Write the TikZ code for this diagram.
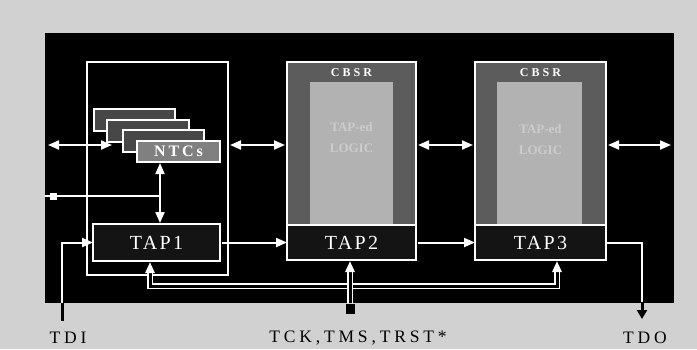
\documentclass[tikz,border=0pt]{standalone}
\usepackage{fontspec}
\setmainfont{Liberation Serif}
\usetikzlibrary{arrows.meta}
\definecolor{bgc}{gray}{0.82}
\definecolor{cbdark}{gray}{0.36}
\definecolor{cblight}{gray}{0.70}
\definecolor{faint}{gray}{0.80}
\begin{document}
\begin{tikzpicture}[x=1pt,y=-1pt,
  box/.style={anchor=north west, inner sep=0pt, outer sep=0pt},
  wline/.style={white, line width=2pt},
  tipw/.style={-{Triangle[length=11pt,width=9pt]}},
  warr/.style={wline, tipw},
  wdarr/.style={wline, {Triangle[length=11pt,width=9pt]}-{Triangle[length=11pt,width=9pt]}},
  bus/.style={draw=white, line width=1.8pt, double=black, double distance=3pt},
  column/.style={box, draw=white, line width=2pt, fill=cbdark},
  inner/.style={box, fill=cblight},
  tapbox/.style={box, draw=white, line width=2pt, fill=black!92, text=white,
    font=\fontsize{20}{22}\selectfont\addfontfeature{LetterSpace=12}},
  ntc/.style={box, draw=white, line width=1.6pt, fill=black!72},
  cbsrlbl/.style={text=white, inner sep=0pt, font=\bfseries\fontsize{12}{14}\selectfont\addfontfeature{LetterSpace=25}},
  faintlbl/.style={text=faint, inner sep=0pt, font=\bfseries\fontsize{13}{15}\selectfont},
  lbl/.style={text=black, inner sep=0pt, font=\fontsize{17.5}{20}\selectfont\addfontfeature{LetterSpace=22}}
]
\path[use as bounding box] (0,0) rectangle (697,349);
\fill[bgc] (0,0) rectangle (697,349);
\node[box, fill=black, minimum width=629pt, minimum height=270pt] (board) at (45,33) {};

% left module
\node[box, draw=white, line width=2pt, minimum width=141pt, minimum height=213pt] (mod) at (87,62) {};

% NTC stack
\node[ntc, minimum width=81pt, minimum height=22pt] (r1) at (94,109) {};
\node[ntc, minimum width=82pt, minimum height=22pt] (r2) at (107,120) {};
\node[ntc, minimum width=81pt, minimum height=22pt] (r3) at (123,130) {};
\node[ntc, fill=black!50, minimum width=83pt, minimum height=21pt, text=white,
  font=\bfseries\fontsize{16}{18}\selectfont\addfontfeature{LetterSpace=18}] (r4) at (137,141) {NTCs};

% TAP1
\node[tapbox, minimum width=127pt, minimum height=37pt] (tap1) at (93,224) {TAP1};

% CBSR columns
\node[column, minimum width=129pt, minimum height=198pt] (c1) at (287,62) {};
\node[inner, minimum width=83pt, minimum height=142pt] (c1in) at (310,82) {};
\node[cbsrlbl] (c1l) at (351.5,73) {CBSR};
\node[faintlbl] (c1t1) at (351.5,127) {TAP-ed};
\node[faintlbl] (c1t2) at (351.5,148) {LOGIC};
\node[tapbox, minimum width=129pt, minimum height=35pt] (tap2) at (287,225) {TAP2};

\node[column, minimum width=131pt, minimum height=198pt] (c2) at (475,62) {};
\node[inner, minimum width=85pt, minimum height=142pt] (c2in) at (497,82) {};
\node[cbsrlbl] (c2l) at (540.5,73) {CBSR};
\node[faintlbl] (c2t1) at (540.5,129) {TAP-ed};
\node[faintlbl] (c2t2) at (540.5,150) {LOGIC};
\node[tapbox, minimum width=131pt, minimum height=35pt] (tap3) at (475,225) {TAP3};

% data arrows
\coordinate (la) at (48,145);
\coordinate (lb) at (112,145);
\coordinate (ra) at (671,145);
\draw[wdarr] (la) -- (lb);
\draw[wdarr] ([xshift=2pt]mod.east |- la) -- ([xshift=-2pt]c1.west |- la);
\draw[wdarr] ([xshift=2pt]c1.east |- la) -- ([xshift=-2pt]c2.west |- la);
\draw[wdarr] ([xshift=2pt]c2.east |- la) -- (ra);

% NTC <-> TAP1
\coordinate (vx) at (160,0);
\draw[wdarr] ([yshift=-1pt]r4.south -| vx) -- ([yshift=1pt]tap1.north -| vx);
\coordinate (lin) at (45,196);
\draw[wline] (lin) -- (lin -| vx);
\fill[white] (50,193) rectangle (57,200);

% TDI
\coordinate (tdiin) at (62,303);
\coordinate (tdib) at (62,321);
\draw[wline] (tdiin) |- ([xshift=-10pt]tap1.west);
\draw[warr] ([xshift=-11pt]tap1.west) -- (tap1.west);
\draw[black, line width=3pt] (tdiin) -- (tdib);
\node[lbl] (tdi) at (68,338) {TDI};

% TAP chain
\draw[warr] ([xshift=2pt]tap1.east) -- (tap2.west |- tap1.east);
\draw[warr] ([xshift=2pt]tap2.east) -- (tap3.west);

% TDO
\coordinate (tdoin) at (642,303);
\coordinate (tdob) at (642,319);
\draw[wline] ([xshift=1pt]tap3.east) -| (tdoin);
\draw[black, line width=3pt, -{Triangle[length=9pt,width=10pt]}] ([yshift=1pt]tdoin) -- (tdob);
\node[lbl] (tdo) at (645,338) {TDO};

% control bus
\coordinate (b1) at (150,286);
\coordinate (b3) at (557,286);
\draw[bus] ([yshift=-9pt]tap1.south -| b1) -- (b1) -- (b3) -- ([yshift=-9pt]tap3.south -| b3);
\draw[warr, line width=3pt] ([yshift=-12pt]tap1.south -| b1) -- ([yshift=-1pt]tap1.south -| b1);
\draw[warr, line width=3pt] ([yshift=-12pt]tap3.south -| b3) -- ([yshift=-1pt]tap3.south -| b3);
\coordinate (tck) at (350,303);
\draw[bus] (tck) -- ([yshift=-9pt]tap2.south -| tck);
\draw[warr, line width=3pt] ([yshift=-12pt]tap2.south -| tck) -- ([yshift=-1pt]tap2.south -| tck);
\fill[black] (346,304) rectangle (355,314);
\node[lbl] (tck l) at (358,338) {TCK,TMS,TRST*};
\end{tikzpicture}
\end{document}
